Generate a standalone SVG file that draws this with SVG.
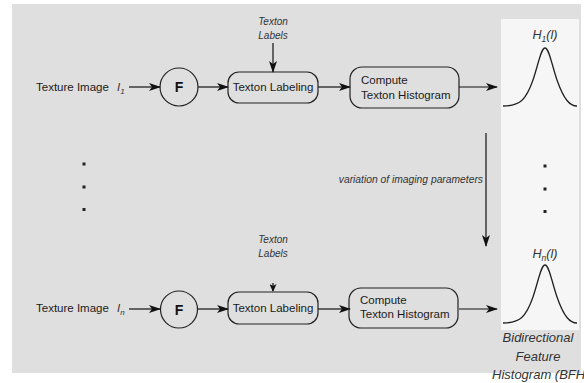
<svg xmlns="http://www.w3.org/2000/svg" width="584" height="383" viewBox="0 0 584 383">
<defs>
<marker id="ah" markerWidth="12" markerHeight="8" refX="11" refY="4" orient="auto" markerUnits="userSpaceOnUse">
<path d="M0,0 L12,4 L0,8 L3,4 Z" fill="#111"/>
</marker>
<marker id="ahs" markerWidth="8" markerHeight="7" refX="7" refY="3.5" orient="auto" markerUnits="userSpaceOnUse">
<path d="M0,0 L8,3.5 L0,7 L2,3.5 Z" fill="#111"/>
</marker>
</defs>
<style>
.t{font-family:"Liberation Sans",Arial,sans-serif;font-size:11.5px;fill:#1a1a1a}
.i{font-family:"Liberation Sans",Arial,sans-serif;font-style:italic;fill:#333}
.box{fill:none;stroke:#222;stroke-width:1.2}
.ln{stroke:#111;stroke-width:1.2;fill:none}
.curve{stroke:#222;stroke-width:1.3;fill:none}
.dot{fill:#222}
</style>
<rect x="0" y="0" width="584" height="383" fill="#ffffff"/>
<rect x="12" y="4" width="569" height="369" fill="#dfdfdf"/>
<rect x="501" y="19" width="78" height="311" fill="#f6f6f6"/>

<g id="connectors">
<line class="ln" x1="129" y1="87" x2="160" y2="87" marker-end="url(#ah)"/>
<line class="ln" x1="198" y1="87" x2="228" y2="87" marker-end="url(#ah)"/>
<line class="ln" x1="318" y1="87" x2="350" y2="87" marker-end="url(#ah)"/>
<line class="ln" x1="459" y1="87" x2="497" y2="87" marker-end="url(#ah)"/>
<line class="ln" x1="273" y1="43" x2="273" y2="72" marker-end="url(#ah)"/>
<line class="ln" x1="129" y1="309" x2="160" y2="309" marker-end="url(#ah)"/>
<line class="ln" x1="198" y1="309" x2="228" y2="309" marker-end="url(#ah)"/>
<line class="ln" x1="318" y1="309" x2="350" y2="309" marker-end="url(#ah)"/>
<line class="ln" x1="459" y1="309" x2="497" y2="309" marker-end="url(#ah)"/>
<line class="ln" x1="273" y1="283" x2="273" y2="291" marker-end="url(#ahs)"/>
<line class="ln" x1="486" y1="133" x2="486" y2="246" marker-end="url(#ah)"/>
</g>

<g id="input1">
<text class="t" x="36" y="91">Texture Image</text>
<text class="i" x="117" y="91" font-size="11.5">I<tspan font-size="8" dy="3">1</tspan></text>
</g>
<g id="filter1">
<circle cx="179" cy="87" r="19" class="box"/>
<text x="179" y="92" text-anchor="middle" font-family="Liberation Sans,Arial,sans-serif" font-weight="bold" font-size="14" fill="#111">F</text>
</g>
<g id="labels1">
<text class="i" x="273" y="25" font-size="10" text-anchor="middle">Texton</text>
<text class="i" x="273" y="39" font-size="10" text-anchor="middle">Labels</text>
</g>
<g id="labeling1">
<rect x="228" y="72" width="90" height="31" rx="11" class="box"/>
<text class="t" x="273" y="91" text-anchor="middle">Texton Labeling</text>
</g>
<g id="compute1">
<rect x="350" y="67" width="109" height="41" rx="12" class="box"/>
<text class="t" x="361" y="84">Compute</text>
<text class="t" x="361" y="99">Texton Histogram</text>
</g>
<g id="hist1">
<text class="i" x="545" y="39" font-size="12.5" text-anchor="middle">H<tspan font-size="8.5" dy="3">1</tspan><tspan dy="-3">(l)</tspan></text>
<path class="curve" d="M503,106 C520,106 526,100 533,80 C539,62 541,48 545,48 C549,48 551,62 557,80 C564,100 570,106 577,106"/>
</g>

<g id="dots">
<rect class="dot" x="82.5" y="162.5" width="3" height="3"/>
<rect class="dot" x="82.5" y="185.5" width="3" height="3"/>
<rect class="dot" x="82.5" y="208" width="3" height="3"/>
<rect class="dot" x="543.5" y="164.5" width="3" height="3"/>
<rect class="dot" x="543.5" y="187.5" width="3" height="3"/>
<rect class="dot" x="543.5" y="210" width="3" height="3"/>
</g>
<g id="variation">
<text class="i" x="483" y="183" font-size="10.3" text-anchor="end">variation of imaging parameters</text>
</g>

<g id="input2">
<text class="t" x="36" y="312">Texture Image</text>
<text class="i" x="117" y="312" font-size="11.5">I<tspan font-size="8" dy="3">n</tspan></text>
</g>
<g id="filter2">
<circle cx="179" cy="309.5" r="18.5" class="box"/>
<text x="179" y="314.5" text-anchor="middle" font-family="Liberation Sans,Arial,sans-serif" font-weight="bold" font-size="14" fill="#111">F</text>
</g>
<g id="labels2">
<text class="i" x="273" y="243" font-size="10" text-anchor="middle">Texton</text>
<text class="i" x="273" y="257" font-size="10" text-anchor="middle">Labels</text>
</g>
<g id="labeling2">
<rect x="228" y="292" width="90" height="32" rx="11" class="box"/>
<text class="t" x="273" y="312" text-anchor="middle">Texton Labeling</text>
</g>
<g id="compute2">
<rect x="349" y="288" width="109" height="40" rx="12" class="box"/>
<text class="t" x="360" y="304">Compute</text>
<text class="t" x="360" y="318">Texton Histogram</text>
</g>
<g id="hist2">
<text class="i" x="545" y="258" font-size="12.5" text-anchor="middle">H<tspan font-size="8.5" dy="3">n</tspan><tspan dy="-3">(l)</tspan></text>
<path class="curve" d="M503,323 C520,323 526,317 533,297 C539,279 541,265 545,265 C549,265 551,279 557,297 C564,317 570,323 577,323"/>
</g>
<g id="bfh">
<text class="i" x="538" y="342" font-size="13" text-anchor="middle">Bidirectional</text>
<text class="i" x="538" y="361" font-size="13" text-anchor="middle">Feature</text>
<text class="i" x="492" y="379" font-size="13">Histogram (BFH</text>
</g>
</svg>
